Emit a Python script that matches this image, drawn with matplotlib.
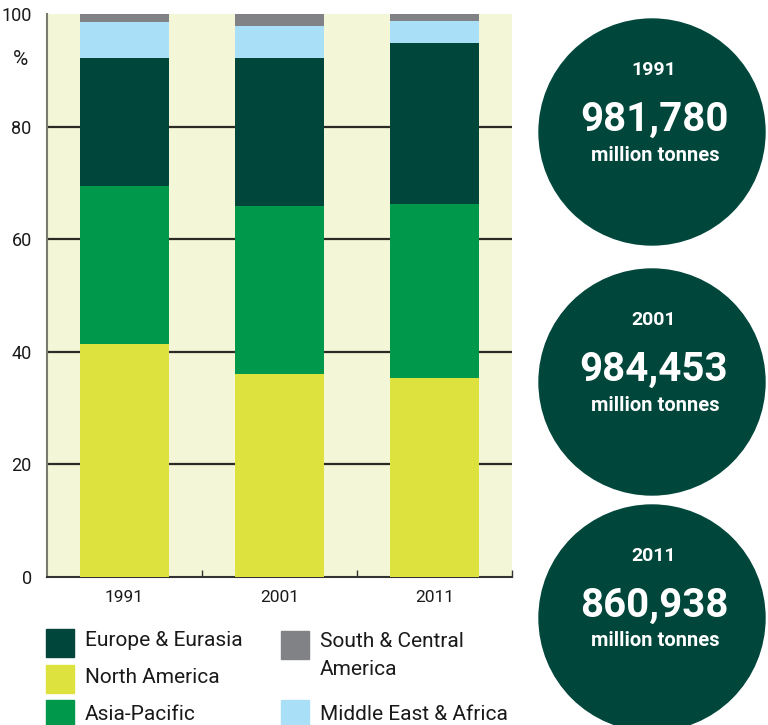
import matplotlib
matplotlib.use("Agg")
import matplotlib.pyplot as plt
from matplotlib.patches import Circle, Rectangle
import numpy as np

plt.rcParams['font.family'] = ['Roboto', 'DejaVu Sans']

# data (share of total, %)
years = ["1991", "2001", "2011"]
north_america = [41.4, 36.1, 35.3]
asia_pacific = [28.0, 29.8, 31.0]
europe_eurasia = [22.8, 26.3, 28.5]
middle_east_africa = [6.4, 5.7, 4.0]
south_central_america = [1.4, 2.1, 1.2]
totals = ["981,780", "984,453", "860,938"]
y_ticks = [0, 20, 40, 60, 80, 100]

c_europe = "#00463A"
c_na = "#DDE23F"
c_ap = "#00984A"
c_sca = "#808285"
c_mea = "#AADFF8"
bg = "#F4F6D8"

fig = plt.figure(figsize=(7.68, 7.25), dpi=100)
ax = fig.add_axes([47/768, 148/725, 465/768, 563/725])
ax.set_facecolor(bg)

x = np.arange(len(years))
stack = [(north_america, c_na), (asia_pacific, c_ap), (europe_eurasia, c_europe),
         (middle_east_africa, c_mea), (south_central_america, c_sca)]
bottom = np.zeros(len(years))
for vals, col in stack:
    ax.bar(x, vals, width=0.58, bottom=bottom, color=col, zorder=3)
    bottom += np.array(vals)

ax.set_xlim(-0.5, 2.5)
ax.set_ylim(0, 100)
for yv in y_ticks[1:-1]:
    ax.axhline(yv, color="#2b2b24", lw=1.6, zorder=1)

ax.set_yticks(y_ticks)
ax.tick_params(axis="y", length=0, pad=11, labelsize=13, labelcolor="#1a1a1a")
ax.set_xticks(x)
ax.set_xticklabels(years)
ax.tick_params(axis="x", which="major", length=0, pad=9, labelsize=12.5, labelcolor="#1a1a1a")
ax.set_xticks([0.5, 1.5, 2.5], minor=True)
ax.tick_params(axis="x", which="minor", direction="in", length=5, width=1, color="#333333")
ax.text(-0.058, 0.92, "%", transform=ax.transAxes, ha="center", va="center",
        fontsize=15, color="#1a1a1a")

for s in ["top", "right"]:
    ax.spines[s].set_visible(False)
ax.spines["left"].set_color("#7a7a70")
ax.spines["left"].set_linewidth(1.5)
ax.spines["bottom"].set_color("#333333")
ax.spines["bottom"].set_linewidth(1.5)

# overlay in pixel coordinates for circles and legend
ov = fig.add_axes([0, 0, 1, 1])
ov.set_xlim(0, 768)
ov.set_ylim(725, 0)
ov.axis("off")

centers_y = [132, 382, 618]
for yr, tot, cy in zip(years, totals, centers_y):
    ov.add_patch(Circle((652, cy), 113, color=c_europe, zorder=2))
    ov.text(654, cy - 62, yr, ha="center", va="center", color="white",
            fontsize=14, fontweight="bold", zorder=3)
    ov.text(654, cy - 12, tot, ha="center", va="center", color="white",
            fontsize=29, fontweight="bold", zorder=3)
    ov.text(655, cy + 23, "million tonnes", ha="center", va="center", color="white",
            fontsize=14.5, fontweight="bold", zorder=3)

legend_items = [("Europe & Eurasia", c_europe, 46, 629, 646),
                ("North America", c_na, 46, 665, 683),
                ("Asia-Pacific", c_ap, 46, 700, 720),
                ("South & Central\nAmerica", c_sca, 281, 631, 647),
                ("Middle East & Africa", c_mea, 281, 700, 720)]
for lab, col, lx, sq_top, base in legend_items:
    ov.add_patch(Rectangle((lx, sq_top), 28, 28, color=col))
    for i, line in enumerate(lab.split("\n")):
        ov.text(lx + 39, base + i * 28, line, ha="left", va="baseline",
                fontsize=15, color="#1a1a1a")

fig.savefig("out.png", dpi=100, facecolor="white")
